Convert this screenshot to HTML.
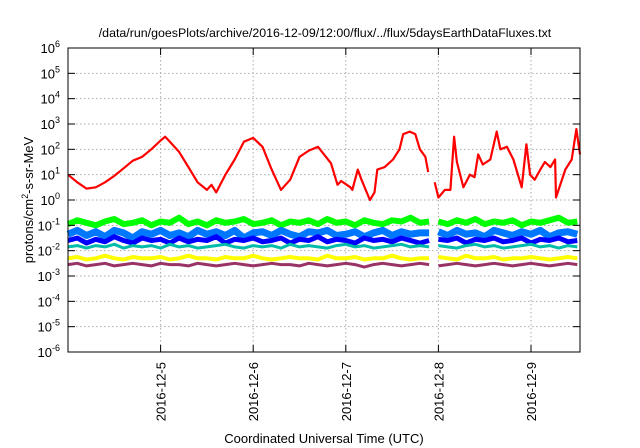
<!DOCTYPE html>
<html><head><meta charset="utf-8"><style>
body{margin:0;background:#fff;}
svg{display:block;font-family:"Liberation Sans",sans-serif;}
</style></head><body>
<svg id="chart" width="640" height="448" viewBox="0 0 640 448">
<text x="325" y="37" font-size="12.4" text-anchor="middle" fill="#000">/data/run/goesPlots/archive/2016-12-09/12:00/flux/../flux/5daysEarthDataFluxes.txt</text>
<g id="grid"></g>
<g id="series"></g>
<g id="axes"></g>
<text transform="translate(33,200) rotate(-90)" font-size="13" text-anchor="middle">protons/cm<tspan font-size="9" dy="-5">2</tspan><tspan dy="5">-s-sr-MeV</tspan></text>
<text x="324" y="443" font-size="13" text-anchor="middle">Coordinated Universal Time (UTC)</text>
</svg>
<script>
const xTickLabels=["2016-12-5","2016-12-6","2016-12-7","2016-12-8","2016-12-9"];
const xTickDays=[1,2,3,4,5];
const yTickExps=[-6,-5,-4,-3,-2,-1,0,1,2,3,4,5,6];
const redT=[0,0.1,0.2,0.3,0.4,0.5,0.6,0.7,0.8,0.9,1.0,1.05,1.1,1.2,1.3,1.4,1.5,1.55,1.6,1.7,1.8,1.9,2.0,2.1,2.2,2.3,2.4,2.5,2.6,2.7,2.84,2.91,2.95,3.05,3.07,3.13,3.17,3.26,3.31,3.34,3.42,3.51,3.58,3.62,3.69,3.75,3.8,3.86,3.89,3.95,3.96,4.0,4.07,4.13,4.17,4.2,4.27,4.34,4.39,4.43,4.48,4.56,4.63,4.67,4.74,4.81,4.9,4.95,4.99,5.04,5.1,5.15,5.21,5.26,5.27,5.37,5.44,5.49,5.53];
const redLog=[1.0,0.7,0.45,0.5,0.7,0.95,1.25,1.55,1.7,2.0,2.35,2.5,2.3,1.9,1.3,0.7,0.4,0.6,0.3,1.0,1.6,2.3,2.45,2.1,1.2,0.4,0.8,1.7,1.95,2.1,1.45,0.6,0.75,0.5,0.4,1.2,0.8,0.0,0.3,1.2,1.3,1.6,2.0,2.6,2.7,2.6,2.0,1.7,1.1,null,0.7,0.1,0.4,0.4,2.5,1.5,0.5,1.0,0.9,1.8,1.4,1.6,2.7,2.0,2.1,1.6,0.5,2.2,1.0,0.8,1.2,1.5,1.3,1.6,0.1,1.2,1.6,2.8,1.8];
const noiseT=[0,0.1,0.2,0.3,0.4,0.5,0.6,0.7,0.8,0.9,1.0,1.1,1.2,1.3,1.4,1.5,1.6,1.7,1.8,1.9,2.0,2.1,2.2,2.3,2.4,2.5,2.6,2.7,2.8,2.9,3.0,3.1,3.2,3.3,3.4,3.5,3.6,3.7,3.8,3.9,3.95,4.0,4.1,4.2,4.3,4.4,4.5,4.6,4.7,4.8,4.9,5.0,5.1,5.2,5.3,5.4,5.5];
const greenLog=[-0.95,-0.8,-0.9,-1.0,-0.85,-0.75,-0.95,-0.9,-0.8,-1.0,-0.85,-0.9,-0.7,-0.95,-0.85,-1.0,-0.8,-0.9,-0.85,-0.75,-0.95,-0.9,-0.8,-1.0,-0.85,-0.9,-0.8,-0.95,-0.75,-0.9,-0.85,-1.0,-0.8,-0.9,-0.95,-0.8,-0.85,-0.7,-0.9,-0.85,null,-0.85,-0.95,-0.8,-0.9,-0.75,-0.95,-0.85,-0.9,-0.8,-1.0,-0.85,-0.9,-0.8,-0.7,-0.9,-0.85];
const ltBlueLog=[-1.35,-1.2,-1.4,-1.25,-1.45,-1.2,-1.3,-1.5,-1.25,-1.35,-1.2,-1.4,-1.3,-1.45,-1.2,-1.35,-1.25,-1.4,-1.2,-1.5,-1.3,-1.25,-1.4,-1.2,-1.35,-1.45,-1.25,-1.3,-1.2,-1.4,-1.35,-1.25,-1.45,-1.3,-1.2,-1.4,-1.25,-1.35,-1.3,-1.3,null,-1.25,-1.4,-1.2,-1.35,-1.3,-1.45,-1.2,-1.3,-1.4,-1.25,-1.35,-1.2,-1.45,-1.3,-1.25,-1.35];
const blueLog=[-1.6,-1.5,-1.7,-1.55,-1.65,-1.45,-1.6,-1.7,-1.5,-1.6,-1.55,-1.7,-1.5,-1.65,-1.55,-1.6,-1.45,-1.7,-1.55,-1.6,-1.5,-1.65,-1.6,-1.5,-1.7,-1.55,-1.6,-1.45,-1.65,-1.55,-1.6,-1.7,-1.5,-1.6,-1.55,-1.65,-1.5,-1.6,-1.7,-1.6,null,-1.55,-1.6,-1.5,-1.7,-1.55,-1.6,-1.5,-1.65,-1.6,-1.5,-1.7,-1.55,-1.6,-1.5,-1.65,-1.6];
const cyanLog=[-1.85,-1.8,-1.9,-1.8,-1.85,-1.75,-1.9,-1.8,-1.85,-1.8,-1.9,-1.75,-1.85,-1.8,-1.9,-1.85,-1.8,-1.75,-1.85,-1.9,-1.8,-1.85,-1.8,-1.9,-1.75,-1.85,-1.8,-1.85,-1.9,-1.8,-1.75,-1.85,-1.8,-1.9,-1.85,-1.8,-1.75,-1.85,-1.8,-1.85,null,-1.8,-1.85,-1.9,-1.8,-1.75,-1.85,-1.8,-1.9,-1.85,-1.8,-1.75,-1.85,-1.8,-1.9,-1.8,-1.85];
const yellowLog=[-2.3,-2.25,-2.35,-2.3,-2.2,-2.3,-2.35,-2.25,-2.3,-2.3,-2.25,-2.35,-2.3,-2.2,-2.3,-2.3,-2.35,-2.25,-2.3,-2.3,-2.2,-2.3,-2.35,-2.3,-2.25,-2.3,-2.3,-2.35,-2.2,-2.3,-2.3,-2.25,-2.35,-2.3,-2.3,-2.2,-2.3,-2.35,-2.3,-2.3,null,-2.25,-2.3,-2.35,-2.2,-2.3,-2.3,-2.25,-2.35,-2.3,-2.3,-2.25,-2.3,-2.35,-2.3,-2.25,-2.3];
const purpleLog=[-2.55,-2.5,-2.6,-2.55,-2.5,-2.6,-2.55,-2.5,-2.55,-2.6,-2.5,-2.55,-2.55,-2.6,-2.5,-2.55,-2.6,-2.55,-2.5,-2.55,-2.6,-2.55,-2.5,-2.55,-2.55,-2.6,-2.5,-2.55,-2.6,-2.55,-2.5,-2.55,-2.65,-2.55,-2.5,-2.55,-2.6,-2.55,-2.5,-2.55,null,-2.6,-2.55,-2.5,-2.55,-2.6,-2.55,-2.5,-2.55,-2.6,-2.55,-2.5,-2.55,-2.6,-2.55,-2.5,-2.55];

const L=68,R=580,T=48,B=352,dayPx=92.6,xMax=(R-L)/dayPx;
const ns="http://www.w3.org/2000/svg";
function X(d){return L+d*dayPx;}
function Y(e){return B-(e+6)*(B-T)/12;}
function mk(tag,attrs,parent){const e=document.createElementNS(ns,tag);for(const k in attrs)e.setAttribute(k,attrs[k]);parent.appendChild(e);return e;}
const grid=document.getElementById('grid'),axes=document.getElementById('axes'),ser=document.getElementById('series');
yTickExps.forEach(e=>{
  const y=Y(e);
  if(e>-6&&e<6){const g=mk('line',{x1:L,x2:R,y1:y,y2:y,stroke:'#aaa','stroke-dasharray':'1.5,2.5','stroke-width':1},grid);
  }
  const t1=mk('line',{x1:L,x2:L+7,y1:y,y2:y,stroke:'#000'},axes);
  const t2=mk('line',{x1:R-7,x2:R,y1:y,y2:y,stroke:'#000'},axes);
  const tx=mk('text',{x:60,y:y+5,'font-size':13,'text-anchor':'end'},axes);
  
  tx.textContent='10';const sp=mk('tspan',{'font-size':9,dy:-6},tx);sp.textContent=String(e);
});
xTickDays.forEach((d,i)=>{
  const x=X(d);
  const g=mk('line',{x1:x,x2:x,y1:T,y2:B,stroke:'#aaa','stroke-dasharray':'1.5,2.5'},grid);
  const t1=mk('line',{x1:x,x2:x,y1:B-7,y2:B,stroke:'#000'},axes);
  const t2=mk('line',{x1:x,x2:x,y1:T,y2:T+7,stroke:'#000'},axes);
  const tx=mk('text',{transform:`translate(${x+5},${B+10}) rotate(-90)`,'font-size':13,'text-anchor':'end'},axes);
  tx.textContent=xTickLabels[i];
});
const fr=mk('rect',{x:L,y:T,width:R-L,height:B-T,fill:'none',stroke:'#000','stroke-width':1},axes);

function path(ts,vals){let d='',pen=false;vals.forEach((v,i)=>{if(v===null){pen=false;return;}let t=ts[i];if(t>xMax)t=xMax;d+=(pen?'L':'M')+X(t).toFixed(1)+','+Y(v).toFixed(1);pen=true;});return d;}
const series=[["green-series",greenLog,"#00ff00",6],["light-blue-series",ltBlueLog,"#0077ff",7],["blue-series",blueLog,"#0000ff",5],["cyan-series",cyanLog,"#00bbaa",3],["yellow-series",yellowLog,"#ffff00",4],["purple-series",purpleLog,"#993366",3]];
series.forEach(s=>{
  const p=mk('path',{d:path(noiseT,s[1]),fill:'none',stroke:s[2],'stroke-width':s[3],'stroke-linejoin':'round'},ser);
  
});
const rp=mk('path',{d:path(redT,redLog),fill:'none',stroke:'#ff0000','stroke-width':2.2,'stroke-linejoin':'round'},ser);

</script>
</body></html>
